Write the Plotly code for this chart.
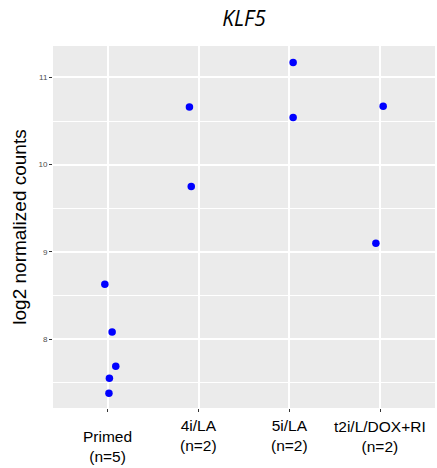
import plotly.graph_objects as go

categories = ["Primed", "4i/LA", "5i/LA", "t2i/L/DOX+RI"]
cat_labels = ["Primed<br>(n=5)", "4i/LA<br>(n=2)", "5i/LA<br>(n=2)", "t2i/L/DOX+RI<br>(n=2)"]
point_group = [0, 0, 0, 0, 0, 1, 1, 2, 2, 3, 3]
point_jitter = [-0.03, 0.05, 0.09, 0.02, 0.015, -0.10, -0.08, 0.04, 0.04, 0.03, -0.05]
point_values = [8.63, 8.08, 7.69, 7.55, 7.38, 10.66, 9.75, 11.17, 10.54, 10.67, 9.10]
y_ticks = [8, 9, 10, 11]

xs = [g + j for g, j in zip(point_group, point_jitter)]

fig = go.Figure()
fig.add_trace(go.Scatter(x=xs, y=point_values, mode="markers",
                         marker=dict(color="#0000FF", size=7.5, line=dict(width=0)),
                         showlegend=False, hoverinfo="y"))

fig.update_layout(
    width=437, height=468,
    margin=dict(l=53, r=2, t=46, b=60),
    paper_bgcolor="white", plot_bgcolor="#EBEBEB",
    title=dict(text="<i>KLF5</i>", x=(53 + 435) / 2 / 437, xanchor="center",
               y=1 - 19 / 468, yanchor="middle",
               font=dict(family="Open Sans", size=21, color="black")),
    font=dict(family="Liberation Sans, Arial", color="black"),
)
fig.update_xaxes(range=[-0.6, 3.6], tickvals=[0, 1, 2, 3], ticktext=["", "", "", ""],
                 showgrid=True, gridcolor="white", gridwidth=1.5,
                 ticks="outside", ticklen=3, tickcolor="#333333", tickwidth=1,
                 zeroline=False, showline=False, fixedrange=True)
fig.update_yaxes(range=[7.21, 11.36], tickvals=y_ticks,
                 tickfont=dict(size=8, color="#4D4D4D"),
                 showgrid=True, gridcolor="white", gridwidth=1.5,
                 minor=dict(dtick=0.5, tick0=7.5, showgrid=True, gridcolor="white", gridwidth=0.7, ticks=""),
                 ticks="outside", ticklen=3, tickcolor="#333333", tickwidth=1,
                 zeroline=False, showline=False,
                 title=dict(text="log2 normalized counts", standoff=6,
                            font=dict(size=19, color="black")))

label_y = [-0.106, -0.076, -0.076, -0.078]
for i, lab in enumerate(cat_labels):
    fig.add_annotation(x=i, y=label_y[i], xref="x", yref="paper", text=lab,
                       showarrow=False, xanchor="center", yanchor="middle",
                       font=dict(size=15.5, color="black", family="Liberation Sans, Arial"),
                       align="center")

fig.write_html("out.html")
